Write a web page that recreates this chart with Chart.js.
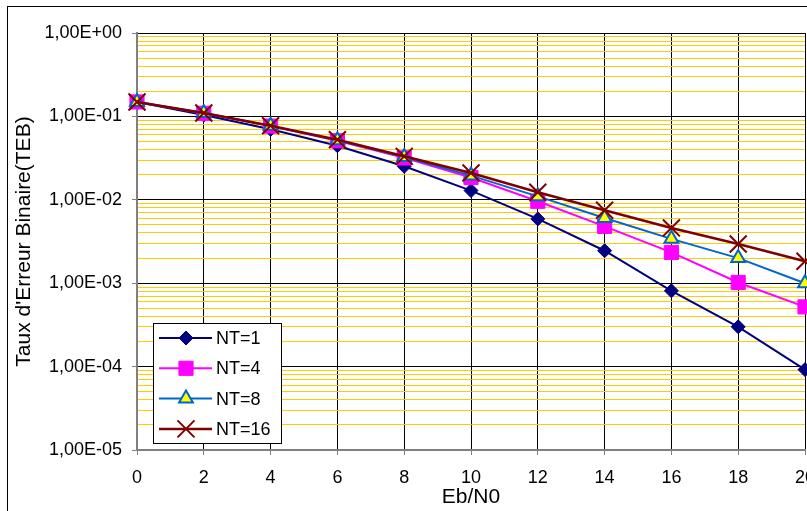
<!DOCTYPE html>
<html>
<head>
<meta charset="utf-8">
<script src="https://cdn.jsdelivr.net/npm/chart.js"></script>
<style>
  html, body { margin: 0; padding: 0; background: #fff; }
  #wrap { width: 807px; height: 511px; }
</style>
</head>
<body>
<div id="wrap"><canvas id="teb" width="807" height="511"></canvas></div>
<script>
// Eb/N0 (dB)
const ebn0 = [0, 2, 4, 6, 8, 10, 12, 14, 16, 18, 20];

// TEB par nombre d'antennes
const nt1  = [0.149, 0.104, 0.070, 0.0445, 0.0252, 0.0129, 0.0059, 0.00245, 0.00081, 0.00030, 0.000092];
const nt4  = [0.149, 0.109, 0.0765, 0.051, 0.0318, 0.0185, 0.0096, 0.0048, 0.00234, 0.00102, 0.00052];
const nt8  = [0.149, 0.110, 0.077, 0.0518, 0.0325, 0.0195, 0.0110, 0.00605, 0.0034, 0.0020, 0.00100];
const nt16 = [0.149, 0.110, 0.0774, 0.0526, 0.0332, 0.0210, 0.0123, 0.0075, 0.0046, 0.00295, 0.00183];

const seriesNames = ['NT=1', 'NT=4', 'NT=8', 'NT=16'];

// graduations de l'axe Y
const decades = [1e-5, 1e-4, 1e-3, 1e-2, 1e-1, 1];
const minorSteps = [2, 3, 4, 5, 6, 7, 8, 9];

const FONT = "'Liberation Sans', Arial, sans-serif";

const yTickValues = [];
decades.forEach(d => {
  yTickValues.push(d);
  if (d < 1) minorSteps.forEach(m => yTickValues.push(d * m));
});
yTickValues.sort((a, b) => a - b);

function isDecade(v) {
  return decades.some(d => Math.abs(d - v) < d * 1e-6);
}

// format Excel : 1,00E-02
function sciLabel(v) {
  const e = Math.round(Math.log10(v));
  const m = v / Math.pow(10, e);
  return m.toFixed(2).replace('.', ',') + 'E' + (e < 0 ? '-' : '+') + String(Math.abs(e)).padStart(2, '0');
}

function pts(arr) {
  return ebn0.map((x, i) => ({ x: x, y: arr[i] }));
}

// cadre extérieur + légende dans la zone de tracé
const extras = {
  id: 'extras',
  afterDraw(chart) {
    const ctx = chart.ctx;
    ctx.save();
    ctx.strokeStyle = '#000';
    ctx.lineWidth = 1;
    ctx.strokeRect(7.5, 6.5, 900, 600);

    ctx.fillStyle = '#fff';
    ctx.fillRect(153, 323, 129, 121);
    ctx.strokeStyle = '#000';
    ctx.strokeRect(153.5, 323.5, 128, 120);

    ctx.font = '18px ' + FONT;
    ctx.textBaseline = 'middle';
    chart.data.datasets.forEach((ds, i) => {
      const y = 338 + i * 30.3;
      ctx.strokeStyle = ds.borderColor;
      ctx.lineWidth = ds.borderWidth;
      ctx.beginPath();
      ctx.moveTo(159, y);
      ctx.lineTo(212, y);
      ctx.stroke();

      ctx.fillStyle = ds.pointBackgroundColor || ds.backgroundColor;
      ctx.strokeStyle = ds.pointBorderColor || ds.borderColor;
      ctx.lineWidth = ds.pointBorderWidth;
      Chart.helpers.drawPoint(ctx, {
        pointStyle: ds.pointStyle,
        radius: ds.pointRadius,
        borderWidth: ds.pointBorderWidth,
        rotation: 0
      }, 186, y);

      ctx.fillStyle = '#000';
      ctx.textAlign = 'left';
      ctx.fillText(seriesNames[i], 216, y + 1);
    });
    ctx.restore();
  }
};

new Chart(document.getElementById('teb').getContext('2d'), {
  type: 'line',
  data: {
    datasets: [
      {
        label: seriesNames[0],
        data: pts(nt1),
        borderColor: '#000080',
        backgroundColor: '#000080',
        borderWidth: 2,
        pointStyle: 'rectRot',
        pointRadius: 7,
        pointBorderWidth: 1,
        order: 4
      },
      {
        label: seriesNames[1],
        data: pts(nt4),
        borderColor: '#FF00FF',
        backgroundColor: '#FF00FF',
        borderWidth: 2,
        pointStyle: 'rect',
        pointRadius: 10,
        pointBorderWidth: 1,
        order: 3
      },
      {
        label: seriesNames[2],
        data: pts(nt8),
        borderColor: '#0066CC',
        backgroundColor: '#0066CC',
        pointBackgroundColor: '#FFFF00',
        pointBorderColor: '#0066CC',
        borderWidth: 2,
        pointStyle: 'triangle',
        pointRadius: 8,
        pointBorderWidth: 2,
        order: 2
      },
      {
        label: seriesNames[3],
        data: pts(nt16),
        borderColor: '#800000',
        backgroundColor: '#800000',
        borderWidth: 2.5,
        pointStyle: 'crossRot',
        pointRadius: 12,
        pointBorderWidth: 2,
        order: 1
      }
    ]
  },
  options: {
    responsive: false,
    animation: false,
    clip: false,
    layout: {
      autoPadding: false,
      padding: { left: 8, top: 33, right: 2, bottom: 0 }
    },
    elements: {
      line: { tension: 0 }
    },
    scales: {
      x: {
        type: 'linear',
        min: 0,
        max: 20,
        ticks: {
          stepSize: 2,
          padding: 12,
          color: '#000',
          font: { family: FONT, size: 18 },
          maxRotation: 0,
          autoSkip: false
        },
        grid: {
          color: '#000',
          lineWidth: 1,
          tickLength: 5,
          tickColor: '#808080'
        },
        border: { color: '#808080', width: 2 },
        title: {
          display: true,
          text: 'Eb/N0',
          color: '#000',
          font: { family: FONT, size: 21 },
          padding: { top: 0, bottom: 1 }
        },
        afterFit(scale) {
          scale.height = 61;
          scale.paddingLeft = 0;
          scale.paddingRight = 0;
        }
      },
      y: {
        type: 'logarithmic',
        min: 1e-5,
        max: 1,
        afterBuildTicks(scale) {
          scale.ticks = yTickValues.map(v => ({ value: v, major: isDecade(v) }));
        },
        ticks: {
          autoSkip: false,
          padding: 10,
          color: '#000',
          font: { family: FONT, size: 18 },
          callback: (value) => isDecade(value) ? sciLabel(value) : ''
        },
        grid: {
          color: ctx => isDecade(ctx.tick.value) ? '#000' : '#FFCC00',
          lineWidth: 1,
          tickLength: 5,
          tickColor: ctx => isDecade(ctx.tick.value) ? '#808080' : 'rgba(0,0,0,0)'
        },
        border: { color: '#808080', width: 2 },
        title: {
          display: true,
          text: "Taux d'Erreur Binaire(TEB)",
          color: '#000',
          font: { family: FONT, size: 21 },
          padding: { top: 4, bottom: 4 }
        },
        afterFit(scale) {
          scale.width = 129;
          scale.paddingTop = 0;
          scale.paddingBottom = 0;
        }
      }
    },
    plugins: {
      legend: { display: false },
      tooltip: { enabled: false }
    }
  },
  plugins: [extras]
});
</script>
</body>
</html>
